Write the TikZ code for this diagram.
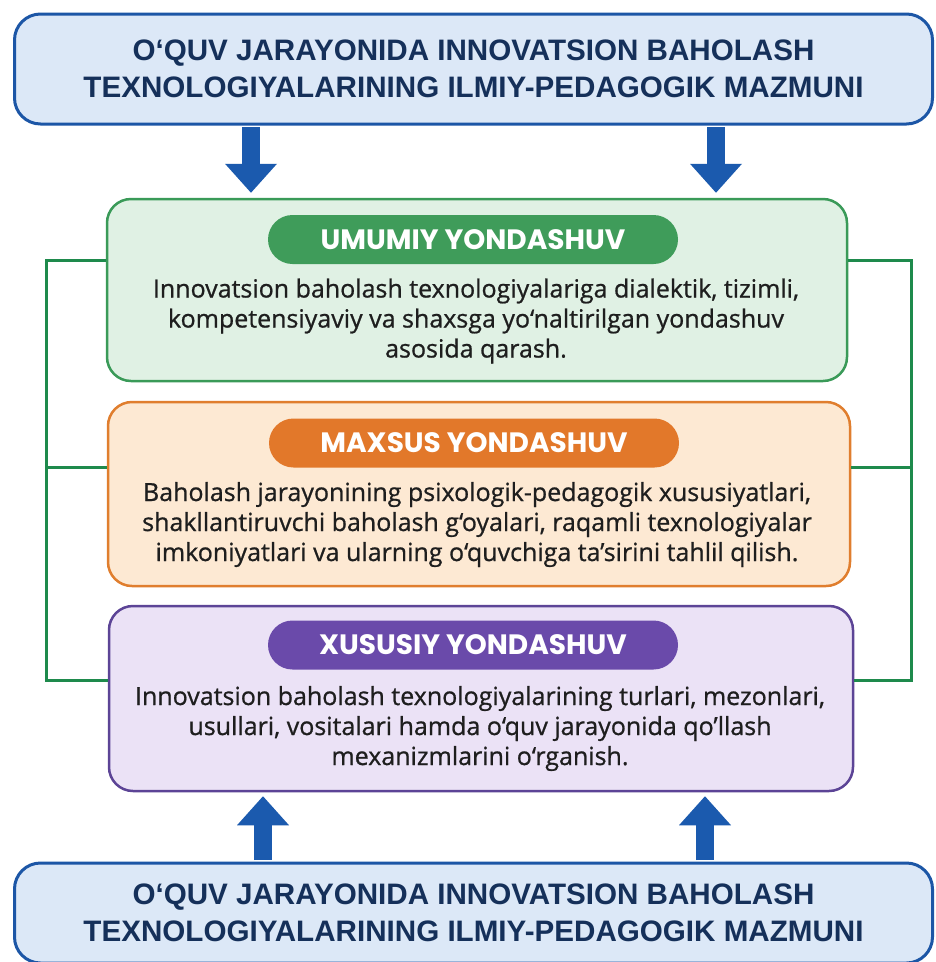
\documentclass[tikz,border=0pt]{standalone}
\usepackage{fontspec}
\setmainfont{Open Sans}
\newfontfamily\bodyfont[FakeBold=0.8]{Open Sans}
\newfontfamily\headfont{Liberation Sans}
\newfontfamily\pillfont{Poppins}
\usetikzlibrary{arrows.meta}
\definecolor{hdfill}{HTML}{DCE8F7}
\definecolor{hdline}{HTML}{1C56A6}
\definecolor{hdtext}{HTML}{15305A}
\definecolor{arrowblue}{HTML}{1B5AAE}
\definecolor{gfill}{HTML}{E0F1E4}
\definecolor{gline}{HTML}{3A9A58}
\definecolor{gpill}{HTML}{3F9C5A}
\definecolor{connc}{HTML}{1E8A4C}
\definecolor{ofill}{HTML}{FDE9D3}
\definecolor{oline}{HTML}{E07E2E}
\definecolor{opill}{HTML}{E2782A}
\definecolor{pfill}{HTML}{EBE2F6}
\definecolor{pline}{HTML}{5C4496}
\definecolor{ppill}{HTML}{6A4AAA}
\definecolor{bodytext}{HTML}{1E1E1E}
\tikzset{
  headbox/.style={draw=hdline, fill=hdfill, line width=3pt, rounded corners=26pt,
    minimum width=918pt, inner sep=0pt, align=center, text=hdtext,
    font=\headfont\bfseries\fontsize{29.6}{37}\selectfont},
  panel/.style={line width=2.5pt, rounded corners=24pt, inner sep=0pt},
  pill/.style={rounded corners=24.5pt, minimum width=410pt, minimum height=49pt,
    inner sep=0pt, text=white, font=\pillfont\bfseries\fontsize{28}{28}\selectfont},
  bodytxt/.style={align=center, inner sep=0pt, text=bodytext,
    font=\bodyfont\fontsize{25}{30}\selectfont},
  bigarrow/.style={draw=arrowblue, line width=18pt,
    -{Triangle[length=29pt, width=52pt, line width=0pt]}},
  connline/.style={draw=connc, line width=3pt}
}
\begin{document}
\begin{tikzpicture}[x=1pt, y=-1pt]
\useasboundingbox (0,0) rectangle (936,962);
\fill[white] (0,0) rectangle (936,962);

% helper coordinates
\coordinate (cl) at (46,0);
\coordinate (cr) at (911,0);
\coordinate (ya) at (0,260);
\coordinate (yb) at (0,467);
\coordinate (yc) at (0,680);
\coordinate (xa) at (251,0);
\coordinate (xb) at (716,0);
\coordinate (xc) at (263,0);
\coordinate (xd) at (705,0);

% panels
\node[panel, draw=gline, fill=gfill, minimum width=740pt, minimum height=182pt] (g) at (477,290) {};
\node[panel, draw=oline, fill=ofill, minimum width=742pt, minimum height=184pt] (o) at (479,494) {};
\node[panel, draw=pline, fill=pfill, minimum width=744pt, minimum height=185pt] (p) at (481,698.5) {};

% green connectors
\draw[connline] (g.west |- ya) -- (cl |- ya) -- (cl |- yc) -- (p.west |- yc);
\draw[connline] (o.west |- yb) -- (cl |- yb);
\draw[connline] (g.east |- ya) -- (cr |- ya) -- (cr |- yc) -- (p.east |- yc);
\draw[connline] (o.east |- yb) -- (cr |- yb);

% pills
\node[pill, fill=gpill] (gp) at (473,239.5) {UMUMIY YONDASHUV};
\node[pill, fill=opill] (op) at (474,443) {MAXSUS YONDASHUV};
\node[pill, fill=ppill] (pp) at (473,645) {XUSUSIY YONDASHUV};

% body texts
\node[bodytxt] (gt) at (476,321) {Innovatsion baholash texnologiyalariga dialektik, tizimli,\\kompetensiyaviy va shaxsga yo‘naltirilgan yondashuv\\asosida qarash.};
\node[bodytxt] (ot) at (477,524.5) {Baholash jarayonining psixologik-pedagogik xususiyatlari,\\shakllantiruvchi baholash g‘oyalari, raqamli texnologiyalar\\imkoniyatlari va ularning o‘quvchiga ta’sirini tahlil qilish.};
\node[bodytxt] (pt) at (480,728.5) {Innovatsion baholash texnologiyalarining turlari, mezonlari,\\usullari, vositalari hamda o‘quv jarayonida qo’llash\\mexanizmlarini o‘rganish.};

% header boxes
\node[headbox, minimum height=110pt] (tt) at (473.5,69) {O‘QUV JARAYONIDA INNOVATSION BAHOLASH\\TEXNOLOGIYALARINING ILMIY-PEDAGOGIK MAZMUNI};
\node[headbox, minimum height=100pt] (bb) at (473.5,913) {O‘QUV JARAYONIDA INNOVATSION BAHOLASH\\TEXNOLOGIYALARINING ILMIY-PEDAGOGIK MAZMUNI};

% arrows
\draw[bigarrow, shorten <=1.5pt, shorten >=5pt] (tt.south -| xa) -- (g.north -| xa);
\draw[bigarrow, shorten <=1.5pt, shorten >=5pt] (tt.south -| xb) -- (g.north -| xb);
\draw[bigarrow, shorten <=1.5pt, shorten >=4pt] (bb.north -| xc) -- (p.south -| xc);
\draw[bigarrow, shorten <=1.5pt, shorten >=4pt] (bb.north -| xd) -- (p.south -| xd);
\end{tikzpicture}
\end{document}
